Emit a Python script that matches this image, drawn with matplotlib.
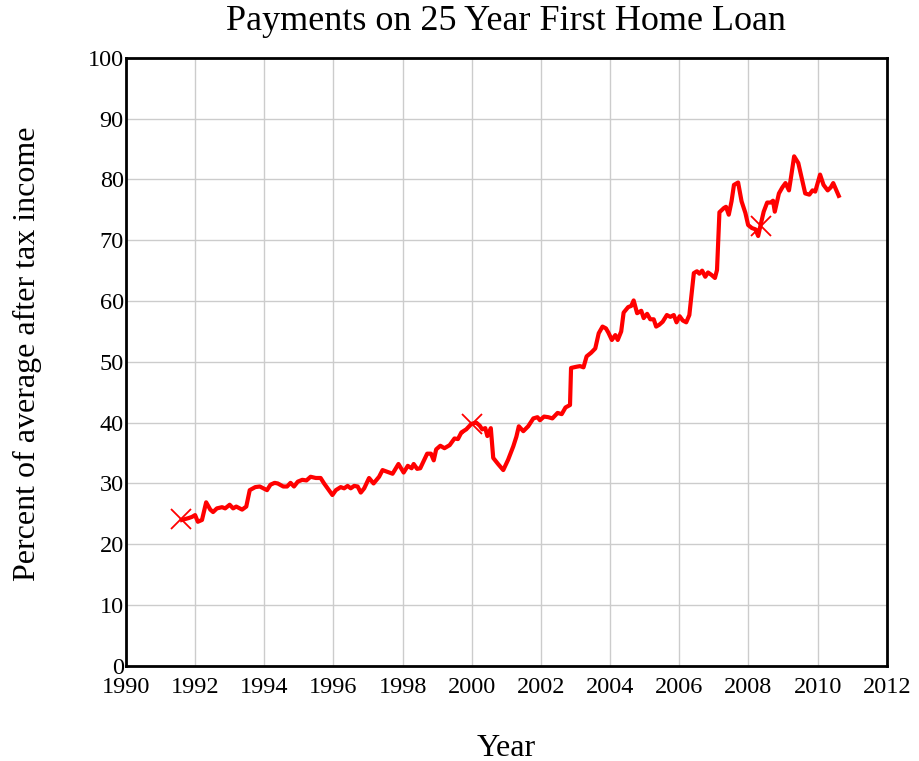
import matplotlib
matplotlib.use("Agg")
import matplotlib.pyplot as plt

years = [1991.62, 1991.81, 1991.91, 1992.0, 1992.08, 1992.2, 1992.32, 1992.44, 1992.52, 1992.63,
         1992.78, 1992.87, 1993.0, 1993.1, 1993.19, 1993.36, 1993.48, 1993.58, 1993.74, 1993.87,
         1994.08, 1994.18, 1994.3, 1994.39, 1994.55, 1994.66, 1994.76, 1994.86, 1994.97, 1995.1,
         1995.22, 1995.34, 1995.49, 1995.63, 1995.73, 1995.87, 1995.97, 1996.07, 1996.21, 1996.31,
         1996.41, 1996.5, 1996.6, 1996.7, 1996.79, 1996.89, 1997.03, 1997.16, 1997.32, 1997.42,
         1997.71, 1997.88, 1998.03, 1998.15, 1998.26, 1998.32, 1998.42, 1998.51, 1998.71, 1998.82,
         1998.9, 1998.97, 1999.09, 1999.21, 1999.36, 1999.5, 1999.6, 1999.7, 1999.84, 1999.99,
         2000.13, 2000.23, 2000.3, 2000.39, 2000.45, 2000.55, 2000.62, 2000.76, 2000.91, 2001.05,
         2001.2, 2001.29, 2001.36, 2001.49, 2001.63, 2001.78, 2001.9, 2001.97, 2002.09, 2002.21,
         2002.33, 2002.48, 2002.6, 2002.71, 2002.84, 2002.87, 2003.03, 2003.13, 2003.23, 2003.32,
         2003.45, 2003.57, 2003.67, 2003.78, 2003.88, 2003.95, 2004.05, 2004.15, 2004.22, 2004.32,
         2004.39, 2004.52, 2004.61, 2004.68, 2004.78, 2004.9, 2004.97, 2005.07, 2005.16, 2005.26,
         2005.33, 2005.42, 2005.52, 2005.64, 2005.74, 2005.84, 2005.92, 2006.01, 2006.1, 2006.2,
         2006.29, 2006.42, 2006.51, 2006.58, 2006.66, 2006.75, 2006.83, 2006.93, 2007.03, 2007.09,
         2007.16, 2007.29, 2007.35, 2007.43, 2007.51, 2007.58, 2007.7, 2007.8, 2007.91, 2007.99,
         2008.1, 2008.2, 2008.28, 2008.35, 2008.44, 2008.54, 2008.64, 2008.71, 2008.76, 2008.88,
         2008.98, 2009.07, 2009.17, 2009.22, 2009.32, 2009.44, 2009.54, 2009.64, 2009.76, 2009.85,
         2009.93, 2010.07, 2010.17, 2010.29, 2010.38, 2010.45, 2010.61]
percent = [24.0, 24.3, 24.5, 24.8, 23.7, 24.0, 26.9, 25.7, 25.3, 25.9,
           26.1, 25.9, 26.5, 25.9, 26.2, 25.7, 26.2, 28.9, 29.4, 29.5,
           28.9, 29.8, 30.1, 30.0, 29.5, 29.5, 30.1, 29.5, 30.3, 30.6,
           30.5, 31.1, 30.9, 30.9, 30.0, 28.9, 28.1, 28.9, 29.4, 29.2,
           29.6, 29.2, 29.6, 29.5, 28.5, 29.2, 30.9, 30.0, 31.1, 32.2,
           31.6, 33.2, 31.8, 32.9, 32.5, 33.2, 32.4, 32.5, 34.9, 34.9,
           33.8, 35.6, 36.2, 35.8, 36.3, 37.4, 37.3, 38.4, 38.9, 39.8,
           40.0, 39.5, 38.9, 39.1, 37.8, 39.1, 34.2, 33.2, 32.2, 33.9,
           36.1, 37.7, 39.4, 38.6, 39.4, 40.7, 40.9, 40.4, 41.0, 40.9,
           40.7, 41.6, 41.4, 42.5, 42.9, 49.0, 49.2, 49.3, 49.1, 50.9,
           51.5, 52.2, 54.7, 55.8, 55.5, 54.8, 53.6, 54.4, 53.6, 55.0,
           58.1, 59.0, 59.2, 60.1, 58.0, 58.4, 57.2, 57.9, 57.0, 57.0,
           55.8, 56.1, 56.6, 57.7, 57.4, 57.7, 56.5, 57.5, 56.8, 56.5,
           57.7, 64.6, 64.9, 64.5, 65.0, 64.0, 64.7, 64.3, 63.8, 65.1,
           74.6, 75.3, 75.5, 74.2, 76.4, 79.1, 79.5, 76.4, 74.5, 72.5,
           72.0, 71.8, 70.7, 72.5, 74.7, 76.2, 76.2, 76.5, 74.7, 77.7,
           78.7, 79.4, 78.2, 80.0, 83.8, 82.7, 80.2, 77.7, 77.5, 78.2,
           78.0, 80.8, 79.1, 78.2, 78.7, 79.4, 77.3]

marker_years = [1991.59, 2000.0, 2008.35]
marker_values = [24.2, 39.8, 72.3]

x_ticks = list(range(1990, 2013, 2))
y_ticks = list(range(0, 101, 10))

plt.rcParams['font.family'] = ['Liberation Serif', 'DejaVu Serif']

fig = plt.figure(figsize=(9.19, 7.61), dpi=100)
ax = fig.add_axes([0.137, 0.125, 0.828, 0.799])

ax.plot(years, percent, color='#ff0000', linewidth=3.0, solid_joinstyle='round', zorder=3)
ax.plot(marker_years, marker_values, linestyle='none', marker='x', color='#ff0000',
        markersize=14, markeredgewidth=1.3, zorder=4)

ax.set_xlim(1990, 2012)
ax.set_ylim(0, 100)
ax.set_xticks(x_ticks)
ax.set_yticks(y_ticks)
ax.tick_params(axis='both', length=0, labelsize=17.5, colors='black')
ax.tick_params(axis='x', pad=8)
ax.tick_params(axis='y', pad=1.5)
ax.grid(True, color='#cccccc', linewidth=1.0)
ax.set_axisbelow(True)
for s in ax.spines.values():
    s.set_linewidth(2.0)
    s.set_color('black')

fig.text(0.551, 0.972, 'Payments on 25 Year First Home Loan', fontsize=26,
         ha='center', va='center')
fig.text(0.551, 0.017, 'Year', fontsize=23, ha='center', va='center')
fig.text(0.030, 0.535, 'Percent of average after tax income', fontsize=23,
         ha='center', va='center', rotation=90)

fig.savefig('out.png', dpi=100)
